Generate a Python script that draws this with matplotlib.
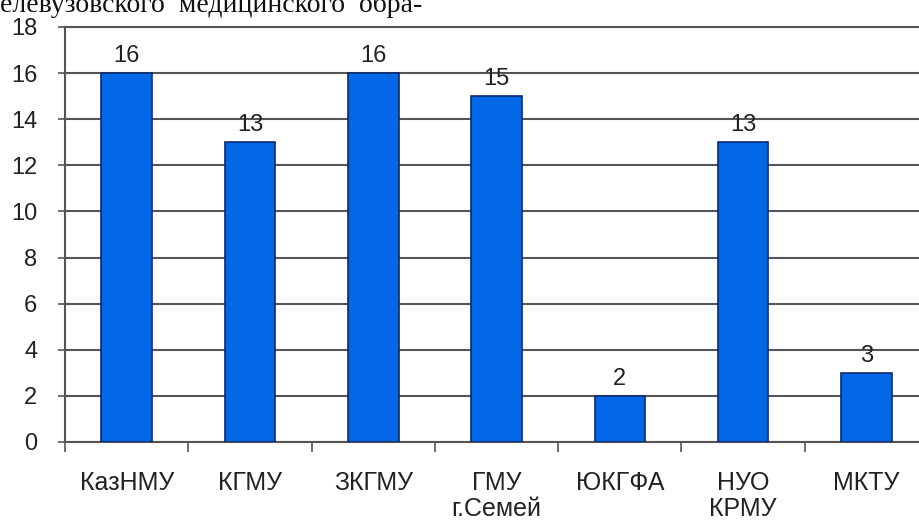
import matplotlib.pyplot as plt
import numpy as np

plt.rcParams['font.family'] = ['Liberation Sans', 'DejaVu Sans']

universities = ['КазНМУ', 'КГМУ', 'ЗКГМУ', 'ГМУ\nг.Семей', 'ЮКГФА', 'НУО\nКРМУ', 'МКТУ']
counts = [16, 13, 16, 15, 2, 13, 3]
yticks = np.arange(0, 19, 2)

fig = plt.figure(figsize=(9.2, 5.22), dpi=100)
ax = fig.add_axes([0.0707, 0.1533, 0.938, 0.795])

xpos = np.arange(len(universities))
bars = ax.bar(xpos, counts, 0.41, color='#0268e8', edgecolor='#0a2a6e',
              linewidth=1.2, zorder=3)
for x, v in zip(xpos, counts):
    ax.text(x, v + 0.25, str(v), ha='center', va='bottom', fontsize=17,
            color='#222222')

ax.set_xlim(-0.5, 6.5)
ax.set_ylim(0, 18)
ax.set_yticks(yticks)
ax.set_yticklabels([str(t) for t in yticks], fontsize=17, color='#222222')
ax.set_xticks(xpos)
ax.set_xticklabels(universities, fontsize=18, color='#222222', linespacing=1.1)
ax.set_xticks(np.arange(-0.5, 7, 1), minor=True)
ax.tick_params(axis='x', which='major', length=0, pad=21)
ax.tick_params(axis='x', which='minor', length=7, width=1.2, color='#555555')
ax.tick_params(axis='y', length=5, width=1.2, color='#555555', pad=15)

ax.grid(axis='y', color='#555555', linewidth=1.5, zorder=0)
for s in ['right']:
    ax.spines[s].set_visible(False)
for s in ['left', 'bottom', 'top']:
    ax.spines[s].set_color('#555555')
    ax.spines[s].set_linewidth(1.5)

fig.text(0.0, 0.977, 'елевузовского  медицинского  обра-', family='Liberation Serif',
         fontsize=20, ha='left', va='baseline', color='#111111')

plt.savefig('out.png', dpi=100)
